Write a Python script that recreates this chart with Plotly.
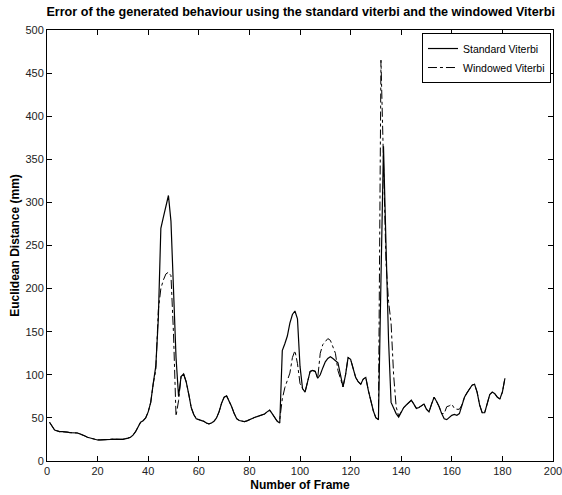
import plotly.graph_objects as go

frames = list(range(1, 182))

standard = [
    45, 40, 36, 35, 34, 34, 34, 33.5, 33, 33,
    33, 32.5, 31.5, 30.5, 29, 27.5, 26.5, 25.5, 24.8, 24.4,
    24.4, 24.4, 24.4, 24.6, 25, 25.3, 25.5, 25.3, 25.2, 25.2,
    25.5, 26.5, 27.5, 30, 34, 40, 45, 46.8, 50, 57,
    68, 90, 110, 165, 270, 283, 295, 308, 278, 200,
    120, 75, 98, 101, 92, 78, 62, 54, 49, 48,
    47, 46, 44, 43, 44, 46, 50, 57, 67, 74,
    75.5, 70, 63, 55, 49, 47, 46, 45.6, 46.5, 48,
    49.5, 50.5, 51.5, 52.2, 53.5, 54.5, 57, 59, 55, 51,
    46, 44, 128, 136, 145, 160, 170, 174, 165, 110,
    84, 80, 92, 104, 105, 104, 96, 100, 108, 115,
    119, 121, 119, 117, 114, 100, 86, 100, 120, 118,
    108, 97, 92, 89, 95, 97, 82, 68, 58, 50,
    48, 210, 365, 250, 140, 68, 62, 55, 51, 57,
    62, 65, 68, 70.5, 66, 61, 62, 64, 66, 60,
    57, 66, 74, 69, 63, 55, 49, 48, 51, 53,
    54, 53, 55, 65, 74, 79, 84, 88, 89, 80,
    65, 56, 56, 66, 77, 80, 78, 74, 72, 80,
    96,
]

windowed = [
    45, 40, 36, 35, 34, 34, 34, 33.5, 33, 33,
    33, 32.5, 31.5, 30.5, 29, 27.5, 26.5, 25.5, 24.8, 24.4,
    24.4, 24.4, 24.4, 24.6, 25, 25.3, 25.5, 25.3, 25.2, 25.2,
    25.5, 26.5, 27.5, 30, 34, 40, 45, 46.8, 50, 57,
    68, 90, 105, 175, 200, 210, 217, 219, 215, 148,
    52, 70, 98, 101, 92, 78, 62, 54, 49, 48,
    47, 46, 44, 43, 44, 46, 50, 57, 67, 74,
    75.5, 70, 63, 55, 49, 47, 46, 45.6, 46.5, 48,
    49.5, 50.5, 51.5, 52.2, 53.5, 54.5, 57, 59, 55, 51,
    46, 48, 72, 85, 95, 102, 120, 128, 113, 90,
    84, 80, 92, 104, 105, 104, 96, 125, 135, 138,
    142, 140, 132, 125, 105, 94, 86, 100, 120, 118,
    108, 97, 92, 89, 95, 97, 82, 68, 58, 50,
    48, 465, 330, 230, 185, 160, 100, 63, 52, 57,
    62, 65, 68, 70.5, 66, 61, 62, 64, 66, 60,
    57, 66, 74, 69, 63, 55, 55, 63, 64, 66,
    61, 60, 60, 65, 74, 79, 84, 88, 89, 80,
    65, 56, 56, 66, 77, 80, 78, 74, 72, 80,
    96,
]

x_ticks = list(range(0, 201, 20))
y_ticks = list(range(0, 501, 50))

FONT = "Liberation Sans, Arial, sans-serif"

fig = go.Figure()
fig.add_trace(go.Scatter(x=frames, y=standard, mode="lines", name="Standard Viterbi",
                         line=dict(color="black", width=1.2)))
fig.add_trace(go.Scatter(x=frames, y=windowed, mode="lines", name="Windowed Viterbi",
                         line=dict(color="black", width=1.0, dash="dashdot")))

axis_common = dict(showgrid=False, zeroline=False, showline=True, linecolor="black",
                   linewidth=1, mirror="ticks", ticks="inside", ticklen=5,
                   tickcolor="black", automargin=False, ticklabeloverflow="allow",
                   tickfont=dict(family=FONT, size=11, color="#222"))

fig.update_layout(
    width=562, height=495,
    margin=dict(l=47, r=9, t=30, b=34, autoexpand=False),
    paper_bgcolor="white", plot_bgcolor="white",
    title=dict(text="<b>Error of the generated behaviour using the standard viterbi and the windowed Viterbi</b>",
               x=0.535, xanchor="center", y=0.985, yanchor="top",
               font=dict(family=FONT, size=12.6, color="black")),
    xaxis=dict(range=[0, 200], tickvals=x_ticks,
               title=dict(text="<b>Number of Frame</b>", standoff=4,
                          font=dict(family=FONT, size=12, color="black")),
               **axis_common),
    yaxis=dict(range=[0, 500], tickvals=y_ticks,
               title=dict(text="<b>Euclidean Distance (mm)</b>", standoff=3,
                          font=dict(family=FONT, size=12, color="black")),
               **axis_common),
    legend=dict(x=0.996, y=0.993, xanchor="right", yanchor="top",
                bgcolor="white", bordercolor="black", borderwidth=1,
                font=dict(family=FONT, size=10.5, color="black"),
                tracegroupgap=0, itemwidth=30),
    showlegend=True,
)

fig.write_html("out.html")
